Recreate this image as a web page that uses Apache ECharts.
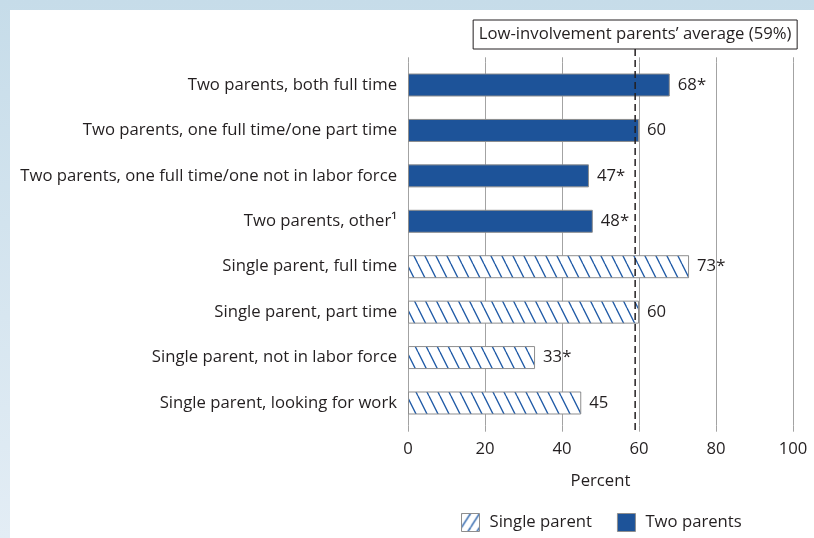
<!DOCTYPE html>
<html>
<head>
<meta charset="utf-8">
<script src="https://cdn.jsdelivr.net/npm/echarts@6/dist/echarts.min.js"></script>
<style>
  html, body { margin: 0; padding: 0; }
  #bg { position: absolute; left: 0; top: 0; width: 814px; height: 538px;
        background: linear-gradient(#c6dce9, #e3edf5); }
  #panel { position: absolute; left: 10px; top: 10px; width: 804px; height: 528px; background: #fff; }
  #chart { position: absolute; left: 0; top: 0; width: 814px; height: 538px; }
</style>
</head>
<body>
<div id="bg"></div>
<div id="panel"></div>
<div id="chart"></div>
<script>
// ---- data ----
var categories = [
  'Two parents, both full time',
  'Two parents, one full time/one part time',
  'Two parents, one full time/one not in labor force',
  'Two parents, other\u00B9',
  'Single parent, full time',
  'Single parent, part time',
  'Single parent, not in labor force',
  'Single parent, looking for work'
];
var values = [68, 60, 47, 48, 73, 60, 33, 45];
var valueLabels = ['68*', '60', '47*', '48*', '73*', '60', '33*', '45'];
var groups = ['Two parents', 'Two parents', 'Two parents', 'Two parents',
              'Single parent', 'Single parent', 'Single parent', 'Single parent'];
var seriesNames = ['Single parent', 'Two parents'];
var xTicks = [0, 20, 40, 60, 80, 100];
var averageValue = 59;
var averageLabel = 'Low-involvement parents\u2019 average (59%)';

// ---- styles ----
var FONT = 'Open Sans';
var FS = 16.7;
var TXT = '#231f20';
var GRIDC = '#a3a3a3';
var BLUE = '#1d5399';
var HATCH = '#1f5aa6';
var BORDER = '#8e8e8e';

function makeHatch(w, h, dir, lw) {
  var c = document.createElement('canvas');
  c.width = w; c.height = h;
  var ctx = c.getContext('2d');
  ctx.fillStyle = '#fff';
  ctx.fillRect(0, 0, w, h);
  ctx.strokeStyle = HATCH;
  ctx.lineWidth = lw;
  for (var k = -1; k <= 1; k++) {
    ctx.beginPath();
    if (dir === 'back') { ctx.moveTo(k * w, 0); ctx.lineTo(k * w + w, h); }
    else { ctx.moveTo(k * w, h); ctx.lineTo(k * w + w, 0); }
    ctx.stroke();
  }
  return c;
}
var barHatch = makeHatch(11, 22, 'back', 1.3);
var legendHatch = makeHatch(9, 14, 'fwd', 1.3);

function seriesData(name) {
  return values.map(function (v, i) { return groups[i] === name ? v : '-'; });
}

var chart = echarts.init(document.getElementById('chart'), null, { renderer: 'canvas' });

function baseSeries(name, color) {
  return {
    name: name,
    type: 'bar',
    xAxisIndex: 0,
    yAxisIndex: 0,
    barWidth: 23,
    barGap: '-100%',
    data: seriesData(name),
    itemStyle: { color: color, borderColor: BORDER, borderWidth: 1 },
    emphasis: { disabled: true },
    label: {
      show: true, position: 'right', distance: 8,
      fontFamily: FONT, fontSize: FS, color: TXT,
      formatter: function (p) { return valueLabels[p.dataIndex]; }
    }
  };
}

var option = {
  animation: false,
  backgroundColor: 'transparent',
  textStyle: { fontFamily: FONT },
  grid: { left: 408, right: 21, top: 62.3, bottom: 112.3, containLabel: false },
  legend: {
    left: 461, top: 513, padding: 0,
    itemWidth: 18, itemHeight: 18, itemGap: 25,
    icon: 'rect',
    selectedMode: false,
    textStyle: { fontFamily: FONT, fontSize: FS, color: TXT, padding: [0, 0, 0, 5] },
    data: [
      { name: seriesNames[0], itemStyle: { color: { image: legendHatch, repeat: 'repeat' }, borderColor: BORDER, borderWidth: 1 } },
      { name: seriesNames[1], itemStyle: { color: BLUE, borderColor: BORDER, borderWidth: 1 } }
    ]
  },
  xAxis: [
    {
      type: 'value', position: 'bottom',
      min: xTicks[0], max: xTicks[xTicks.length - 1], interval: xTicks[1] - xTicks[0],
      axisLine: { show: false },
      axisTick: { show: true, length: 6, lineStyle: { color: GRIDC } },
      splitLine: { show: true, lineStyle: { color: GRIDC, width: 1 } },
      axisLabel: { fontFamily: FONT, fontSize: FS, color: TXT, margin: 15 },
      name: 'Percent', nameLocation: 'middle', nameGap: 47,
      nameTextStyle: { fontFamily: FONT, fontSize: FS, color: TXT }
    },
    {
      type: 'value', position: 'top',
      min: xTicks[0], max: xTicks[xTicks.length - 1], interval: xTicks[1] - xTicks[0],
      axisLine: { show: false },
      axisTick: { show: true, length: 5, lineStyle: { color: GRIDC } },
      splitLine: { show: false },
      axisLabel: { show: false }
    }
  ],
  yAxis: {
    type: 'category', inverse: true, data: categories,
    axisLine: { show: false }, axisTick: { show: false },
    axisLabel: { fontFamily: FONT, fontSize: FS, color: TXT, margin: 11 }
  },
  series: [
    baseSeries(seriesNames[0], { image: barHatch, repeat: 'repeat' }),
    baseSeries(seriesNames[1], BLUE)
  ]
};
chart.setOption(option);

// reference line and its label, positioned through the axis scale
var avgX = chart.convertToPixel({ xAxisIndex: 0 }, averageValue);
chart.setOption({
  graphic: [
    {
      type: 'line', z: 100, silent: true,
      shape: { x1: avgX, y1: 49, x2: avgX, y2: 432 },
      style: { stroke: TXT, lineWidth: 1.5, lineDash: [7, 4] }
    },
    {
      type: 'rect', z: 100, silent: true,
      shape: { x: avgX - 162, y: 20, width: 324, height: 29 },
      style: { fill: '#fff', stroke: TXT, lineWidth: 1 }
    },
    {
      type: 'text', z: 101, silent: true,
      x: avgX, y: 34.5,
      style: { text: averageLabel, fontFamily: FONT, fontSize: FS, fill: TXT, align: 'center', verticalAlign: 'middle' }
    }
  ]
});
</script>
</body>
</html>
